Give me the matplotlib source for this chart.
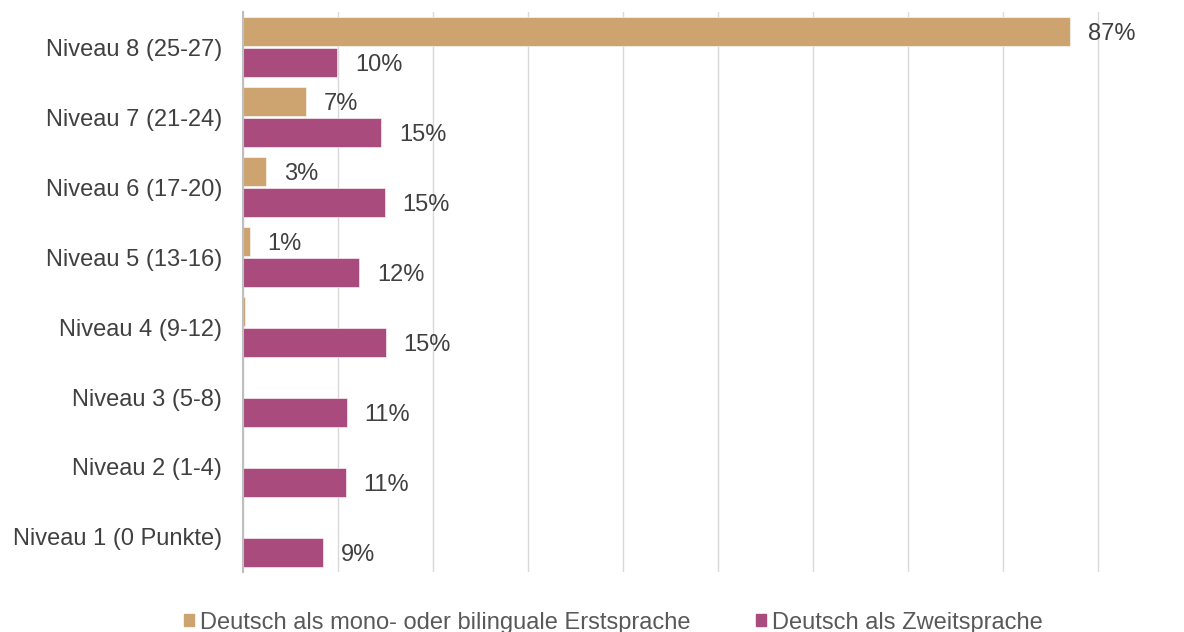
import numpy as np
import matplotlib.pyplot as plt
from matplotlib.patches import Patch

plt.rcParams['font.family'] = ['Liberation Sans', 'DejaVu Sans']

# data (top to bottom)
categories = ["Niveau 8 (25-27)", "Niveau 7 (21-24)", "Niveau 6 (17-20)", "Niveau 5 (13-16)",
              "Niveau 4 (9-12)", "Niveau 3 (5-8)", "Niveau 2 (1-4)", "Niveau 1 (0 Punkte)"]
erst_values = [87.0, 6.6, 2.4, 0.7, 0.2, 0.0, 0.0, 0.0]
erst_labels = ["87%", "7%", "3%", "1%", "", "", "", ""]
zweit_values = [9.9, 14.5, 14.9, 12.2, 15.0, 10.9, 10.8, 8.4]
zweit_labels = ["10%", "15%", "15%", "12%", "15%", "11%", "11%", "9%"]
series_names = ["Deutsch als mono- oder bilinguale Erstsprache", "Deutsch als Zweitsprache"]

col_erst = "#CDA46F"
col_zweit = "#A94B7C"
txt_col = "#404040"

fig = plt.figure(figsize=(11.84, 6.32), dpi=100)
ax = fig.add_axes([243 / 1184, 1 - 572 / 632, (1100 - 243) / 1184, 560 / 632])

y = np.arange(len(categories))
h = 0.42
off = 0.22
b1 = ax.barh(y - off, erst_values, height=h, color=col_erst, edgecolor="white", linewidth=0.4)
b2 = ax.barh(y + off, zweit_values, height=h, color=col_zweit, edgecolor="white", linewidth=0.4)

for bars, labels in ((b1, erst_labels), (b2, zweit_labels)):
    for rect, lab in zip(bars, labels):
        if not lab:
            continue
        ax.annotate(lab, (rect.get_width(), rect.get_y() + rect.get_height() / 2),
                    xytext=(13, -2), textcoords="offset points", va="center", ha="left",
                    fontsize=17, color=txt_col)

ax.set_xlim(0, 90 * 857 / 855)
ax.set_ylim(len(categories) - 0.5, -0.5)
ax.set_xticks(np.arange(0, 91, 10))
ax.set_xticklabels([])
ax.tick_params(axis="x", length=0)
ax.set_yticks(y)
ax.set_yticklabels(categories, fontsize=17, color=txt_col)
ax.tick_params(axis="y", length=0, pad=15)
ax.grid(axis="x", color="#D9D9D9", linewidth=1)
ax.set_axisbelow(True)
for s in ["top", "right", "bottom"]:
    ax.spines[s].set_visible(False)
ax.spines["left"].set_color("#BFBFBF")
ax.spines["left"].set_linewidth(1.5)

handles = [Patch(color=col_erst), Patch(color=col_zweit)]
fig.legend(handles, series_names, loc="center", bbox_to_anchor=(0.518, 0.015), ncol=2,
           frameon=False, fontsize=17, labelcolor="#595959", handlelength=0.45, handleheight=0.45,
           handletextpad=0.25, columnspacing=2.75)

fig.savefig("out.png", dpi=100)
